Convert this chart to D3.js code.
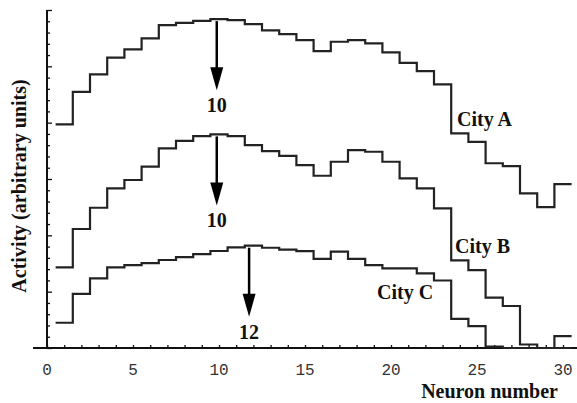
<!DOCTYPE html>
<html>
<head>
<meta charset="utf-8">
<script src="https://cdn.jsdelivr.net/npm/d3@7"></script>
<style>
    body { margin: 0; background: #fff; }
    .curve { fill: none; stroke: #222; stroke-width: 2.2; }
    .lbl { font-family: "Liberation Serif", "Times New Roman", serif; font-weight: bold; font-size: 20px; fill: #111; }
    .tick-lbl { font-family: "Liberation Mono", "DejaVu Sans Mono", monospace; font-size: 16px; fill: #333; }
</style>
</head>
<body>
<div id="chart"></div>
<script>
// neuron numbers and activity of each city (arbitrary units)
var neurons = [1, 2, 3, 4, 5, 6, 7, 8, 9, 10, 11, 12, 13, 14, 15,
    16, 17, 18, 19, 20, 21, 22, 23, 24, 25, 26, 27, 28, 29, 30];
var cityA = [19.85, 22.73, 24.28, 25.78, 26.5, 27.48, 28.66, 28.86, 29.04, 29.19,
    29.1, 28.75, 28.2, 27.86, 27.33, 26.35, 27.18, 27.33, 27.04, 26.24,
    25.3, 24.58, 23.4, 19.05, 18.3, 16.4, 16.15, 13.73, 12.5, 14.55];
var cityB = [7.16, 10.56, 12.45, 14.17, 14.91, 16.09, 17.72, 18.39, 18.81, 18.96,
    18.81, 18.01, 17.48, 17.06, 16.24, 15.29, 16.53, 17.57, 17.42, 16.53,
    15.06, 14.17, 12.4, 7.78, 6.92, 4.48, 3.73, 0.31, 0, 1.06];
var cityC = [2.24, 4.81, 6.18, 7.16, 7.35, 7.54, 7.81, 8.07, 8.34, 8.61,
    8.94, 9.08, 8.9, 8.74, 8.59, 7.91, 8.56, 7.91, 7.36, 7.07,
    7.07, 6.63, 5.99, 2.59, 1.95, 0.13, 0, 0, 0, 0];
var cityNames = ['City A', 'City B', 'City C'];
var peakX = [9.87, 9.87, 11.75];
var peakLabels = ['10', '10', '12'];
var xTickLabels = [0, 5, 10, 15, 20, 25, 30];

var width = 577, height = 403;

var x = d3.scaleLinear().domain([0, 30]).range([47, 563]);
var y = d3.scaleLinear().domain([0, 30]).range([348, 10]);

var svg = d3.select('#chart')
    .append('svg')
    .attr('width', width)
    .attr('height', height);

// axes
var xAxis = d3.axisTop(x)
    .tickValues(d3.range(0, 31))
    .tickSize(3)
    .tickFormat('');
var gx = svg.append('g')
    .attr('transform', 'translate(0,' + y(0) + ')')
    .call(xAxis);
gx.select('.domain').remove();
gx.selectAll('.tick line').attr('stroke', '#111').attr('stroke-width', 1.3);

svg.append('line')
    .attr('x1', 33).attr('x2', 577)
    .attr('y1', y(0)).attr('y2', y(0))
    .attr('stroke', '#111').attr('stroke-width', 2);

var yAxis = d3.axisRight(y)
    .tickValues(d3.range(0, 31))
    .tickSize(3)
    .tickFormat('');
var gy = svg.append('g')
    .attr('transform', 'translate(' + x(0) + ',0)')
    .call(yAxis);
gy.select('.domain').remove();
gy.selectAll('.tick line')
    .attr('stroke', '#111')
    .attr('stroke-width', 1.3)
    .attr('x2', d => d % 5 === 0 ? 5 : 3);

svg.append('line')
    .attr('x1', x(0)).attr('x2', x(0))
    .attr('y1', y(30)).attr('y2', y(0))
    .attr('stroke', '#111').attr('stroke-width', 2);

svg.append('g')
    .selectAll('text')
    .data(xTickLabels)
    .enter()
    .append('text')
    .attr('class', 'tick-lbl')
    .attr('x', d => x(d))
    .attr('y', 375)
    .style('text-anchor', 'middle')
    .text(d => d);

// step curves
var line = d3.line()
    .x(d => x(d[0]))
    .y(d => y(d[1]))
    .curve(d3.curveStepAfter);

function stepPoints(vals) {
    var pts = neurons.map((n, i) => [n - 0.5, vals[i]]);
    pts.push([neurons[neurons.length - 1] + 0.5, vals[vals.length - 1]]);
    return pts;
}

var series = [cityA, cityB, cityC];
svg.append('g')
    .selectAll('path')
    .data(series)
    .enter()
    .append('path')
    .attr('class', 'curve')
    .attr('d', d => line(stepPoints(d)));

// peak arrows
series.forEach(function (vals, i) {
    var px = x(peakX[i]);
    var top = y(vals[neurons.indexOf(Math.round(peakX[i]))]) + 2;
    var tip = top + 69;
    svg.append('line')
        .attr('x1', px).attr('x2', px)
        .attr('y1', top).attr('y2', tip - 20)
        .attr('stroke', '#000').attr('stroke-width', 2.5);
    svg.append('path')
        .attr('d', 'M' + (px - 6.5) + ',' + (tip - 23) + 'L' + (px + 6.5) + ',' + (tip - 23) + 'L' + px + ',' + tip + 'Z')
        .attr('fill', '#000');
    svg.append('text')
        .attr('class', 'lbl')
        .attr('x', px)
        .attr('y', tip + 22)
        .style('text-anchor', 'middle')
        .text(peakLabels[i]);
});

// city labels
var cityLabelPos = [[457, 126], [455, 253], [377, 299]];
svg.append('g')
    .selectAll('text')
    .data(cityNames)
    .enter()
    .append('text')
    .attr('class', 'lbl')
    .attr('x', (d, i) => cityLabelPos[i][0])
    .attr('y', (d, i) => cityLabelPos[i][1])
    .text(d => d);

// axis titles
svg.append('text')
    .attr('class', 'lbl')
    .attr('x', 558)
    .attr('y', 398)
    .style('text-anchor', 'end')
    .text('Neuron number');

svg.append('text')
    .attr('class', 'lbl')
    .attr('transform', 'translate(26,' + 186 + ') rotate(-90)')
    .style('text-anchor', 'middle')
    .text('Activity (arbitrary units)');
</script>
</body>
</html>
